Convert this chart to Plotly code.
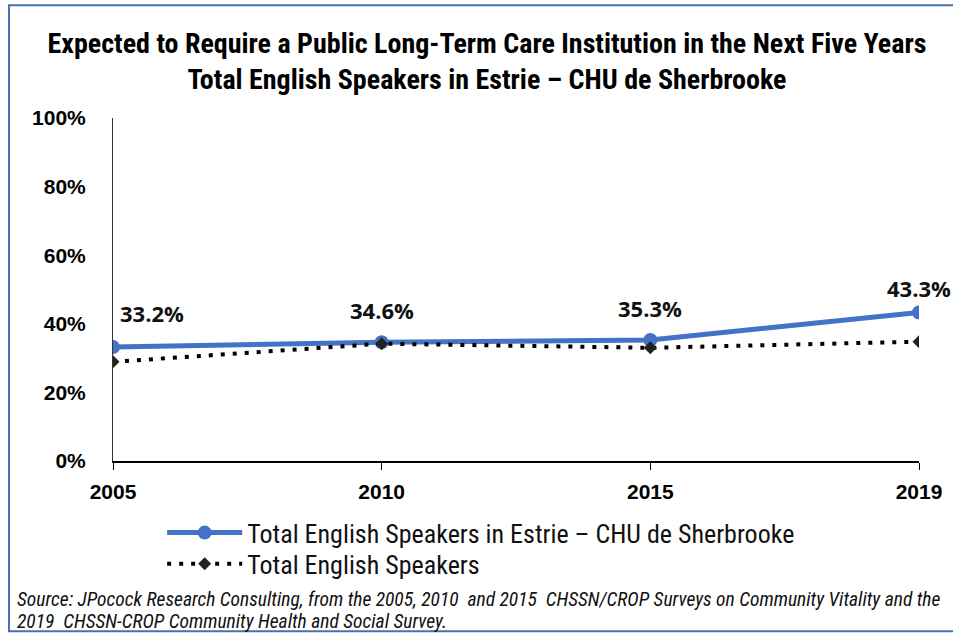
import plotly.graph_objects as go

years = ["2005", "2010", "2015", "2019"]
estrie = [33.2, 34.6, 35.3, 43.3]
total_english = [28.9, 34.2, 33.0, 34.8]
y_ticks = [0, 20, 40, 60, 80, 100]
y_tick_labels = ["0%", "20%", "40%", "60%", "80%", "100%"]

name_estrie = "Total English Speakers in Estrie – CHU de Sherbrooke"
name_total = "Total English Speakers"
source_lines = [
    "Source: JPocock Research Consulting, from the 2005, 2010  and 2015  CHSSN/CROP Surveys on Community Vitality and the",
    "2019  CHSSN-CROP Community Health and Social Survey.",
]

cond = "Roboto Condensed, Liberation Sans Narrow, sans-serif"
arial = "Liberation Sans, Arial, sans-serif"

fig = go.Figure()
fig.add_trace(go.Scatter(x=years, y=estrie, name=name_estrie, legend="legend",
                         mode="lines+markers",
                         line=dict(color="#4472C4", width=5),
                         marker=dict(symbol="circle", size=14, color="#4472C4")))
fig.add_trace(go.Scatter(x=years, y=total_english, name=name_total, legend="legend2",
                         mode="lines+markers",
                         line=dict(color="black", width=4, dash="4px,8px"),
                         marker=dict(symbol="diamond", size=10, color="#222222")))

# data labels on the Estrie series (category index used for x)
label_shift = [34, 32, 32, 24]
for i, v in enumerate(estrie):
    fig.add_annotation(x=i, y=v, xref="x", yref="y", text=f"{v:.1f}%",
                       showarrow=False,
                       xanchor="left" if i == 0 else "center",
                       xshift=5 if i == 0 else 0, yshift=label_shift[i],
                       font=dict(family="Open Sans, sans-serif", size=22,
                                 color="#111111", weight=700))

# source note, one annotation per line
for line, yy in zip(source_lines, [-0.405, -0.469]):
    fig.add_annotation(text=f"<i>{line}</i>", xref="paper", yref="paper",
                       x=-0.122, y=yy, xanchor="left", yanchor="middle",
                       align="left", showarrow=False,
                       font=dict(family=cond, size=19.5, color="#111111"))

fig.add_shape(type="rect", xref="paper", yref="paper",
              x0=-0.129, x1=1.1, y0=-0.496, y1=1.329,
              line=dict(color="#4A6FB0", width=2))

leg_font = dict(family=cond, size=26, color="#111111")
fig.update_layout(
    width=953, height=636,
    margin=dict(l=113, r=34, t=118, b=175),
    paper_bgcolor="white", plot_bgcolor="white",
    title=dict(text="<b>Expected to Require a Public Long-Term Care Institution in the Next Five Years<br>"
                    "Total English Speakers in Estrie – CHU de Sherbrooke</b>",
               x=0.511, xanchor="center", y=0.917, yanchor="top",
               font=dict(family=cond, size=28, color="black")),
    xaxis=dict(type="category", range=[0, 3], showline=True, linecolor="black",
               linewidth=2, ticks="outside", ticklen=7, tickcolor="black",
               showgrid=False, zeroline=False, ticklabelstandoff=4,
               tickfont=dict(family=arial, size=21, color="black", weight="bold")),
    yaxis=dict(range=[0, 100], tickvals=y_ticks, ticktext=y_tick_labels,
               showline=True, linecolor="#333333", linewidth=1, ticks="",
               showgrid=False, zeroline=False, ticklabelstandoff=22,
               tickfont=dict(family=arial, size=21, color="black", weight="bold")),
    legend=dict(x=0.061, y=-0.209, xanchor="left", yanchor="middle",
                font=leg_font, bgcolor="rgba(0,0,0,0)", itemwidth=75),
    legend2=dict(x=0.061, y=-0.3, xanchor="left", yanchor="middle",
                 font=leg_font, bgcolor="rgba(0,0,0,0)", itemwidth=75),
    showlegend=True,
)

fig.write_html("out.html", config={"displayModeBar": False},
               post_script="document.body.style.margin='0px';")
